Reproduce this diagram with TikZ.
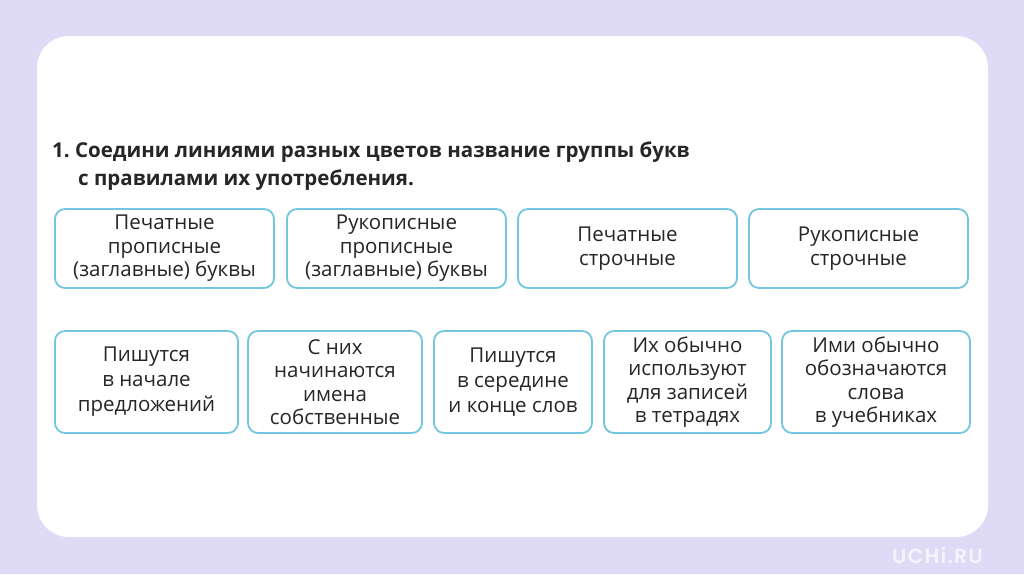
\documentclass[tikz,border=0pt]{standalone}
\usepackage{fontspec}
\setmainfont{Open Sans}
\newfontfamily\titlefont{Open Sans}[UprightFont=* Bold]
\newfontfamily\wmfont{Poppins}[UprightFont=* SemiBold,LetterSpace=6]
\definecolor{bgc}{HTML}{DFDBF7}
\definecolor{bordc}{HTML}{72C6DD}
\definecolor{txtc}{HTML}{262626}
\begin{document}
\begin{tikzpicture}[x=1pt,y=-1pt,
  card/.style={draw=bordc,line width=1.8pt,rounded corners=10pt,fill=white},
  lbl/.style={text=txtc,font=\fontsize{20.5}{23.5}\selectfont,align=center,inner sep=0pt},
  lbltri/.style={lbl,font=\fontsize{20.5}{25}\selectfont}]
\useasboundingbox (0,0) rectangle (1024,574);
\fill[bgc] (0,0) rectangle (1024,574);
\fill[white,rounded corners=32pt] (37,36) rectangle (988,537);
\node[anchor=base west,inner sep=0pt,text=white,opacity=0.7,font=\wmfont\fontsize{20.5}{20.5}\selectfont] (wm) at (892,563) {UCHi.RU};
\node[anchor=base west,inner sep=0pt,text=txtc,align=left,font=\titlefont\fontsize{20.5}{28}\selectfont] (title) at (52,185)
  {1.\ Соедини линиями разных цветов название группы букв\\\hspace*{26pt}с правилами их употребления.};
% top row
\draw[card] (55,209) rectangle (274,288) coordinate[pos=0.5] (t1);
\node[lbl] (a1) at (t1) {Печатные\\прописные\\(заглавные) буквы};
\draw[card] (287,209) rectangle (506,288) coordinate[pos=0.5] (t2);
\node[lbl] (a2) at (t2) {Рукописные\\прописные\\(заглавные) буквы};
\draw[card] (518,209) rectangle (737,288) coordinate[pos=0.5] (t3);
\node[lbl] (a3) at (t3) {Печатные\\строчные};
\draw[card] (749,209) rectangle (968,288) coordinate[pos=0.5] (t4);
\node[lbl] (a4) at (t4) {Рукописные\\строчные};
% bottom row
\draw[card] (55,331) rectangle (238,433) coordinate[pos=0.5] (b1);
\node[lbltri] (c1) at (b1) {Пишутся\\в начале\\предложений};
\draw[card] (248,331) rectangle (422,433) coordinate[pos=0.5] (b2);
\node[lbl] (c2) at (b2) {С них\\начинаются\\имена\\собственные};
\draw[card] (434,331) rectangle (592,433) coordinate[pos=0.5] (b3);
\node[lbltri] (c3) at (b3) {Пишутся\\в середине\\и конце слов};
\draw[card] (604,331) rectangle (771,433) coordinate[pos=0.5] (b4);
\node[lbl] (c4) at (b4) {Их обычно\\используют\\для записей\\в тетрадях};
\draw[card] (782,331) rectangle (970,433) coordinate[pos=0.5] (b5);
\node[lbl] (c5) at (b5) {Ими обычно\\обозначаются\\слова\\в учебниках};
\end{tikzpicture}
\end{document}
